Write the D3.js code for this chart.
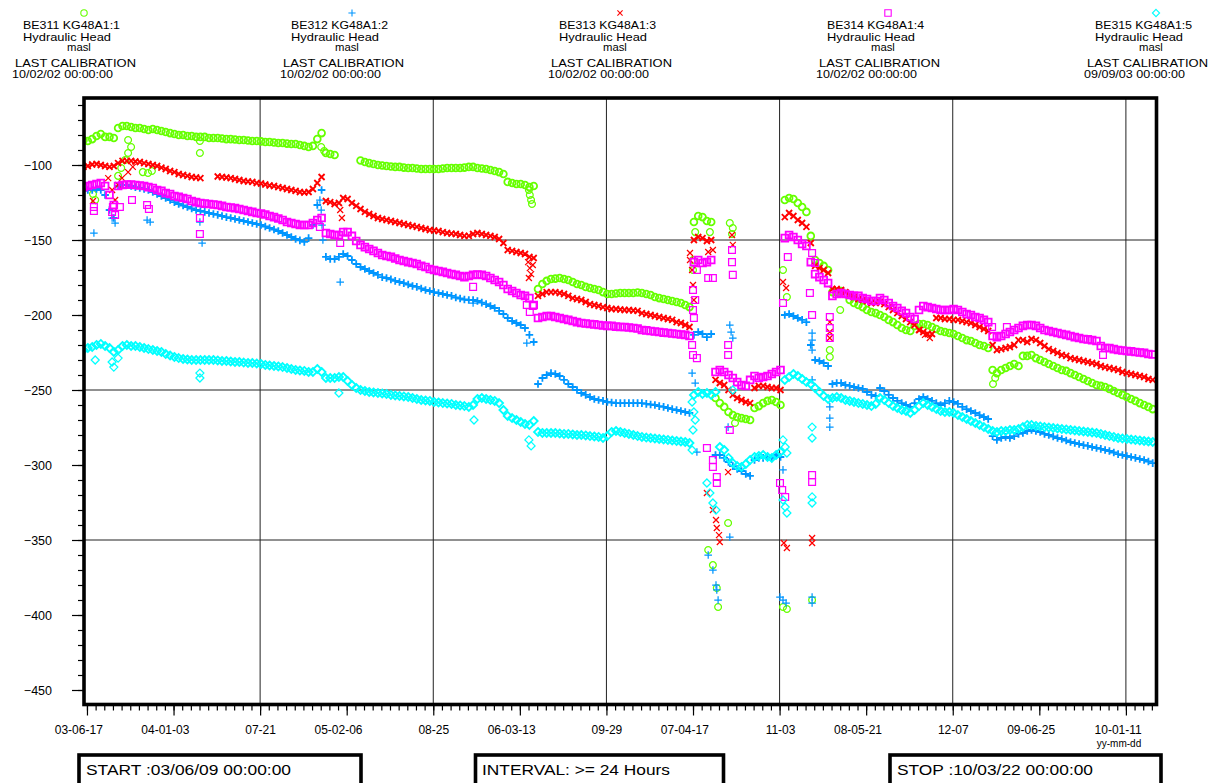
<!DOCTYPE html>
<html><head><meta charset="utf-8">
<script src="https://cdn.jsdelivr.net/npm/d3@7"></script>
<style>
body{margin:0;background:#fff}
svg{display:block}
</style>
</head><body>
<svg id="c" width="1220" height="783"></svg>
<script>
// ---------------- DATA ----------------
const startDate = "2003-06-09", stopDate = "2010-03-22";
const stepDays = 10; // main samples: one value every 10 days from startDate
const sensorIds = ["BE311 KG48A1:1","BE312 KG48A1:2","BE313 KG48A1:3","BE314 KG48A1:4","BE315 KG48A1:5"];
const quantityName = "Hydraulic Head", unitName = "masl";
const lastCalibration = ["10/02/02 00:00:00","10/02/02 00:00:00","10/02/02 00:00:00","10/02/02 00:00:00","09/09/03 00:00:00"];
const xTickDates = ["2003-06-17","2004-01-03","2004-07-21","2005-02-06","2005-08-25","2006-03-13","2006-09-29","2007-04-17","2007-11-03","2008-05-21","2008-12-07","2009-06-25","2010-01-11"];
const xTickLabels = ["03-06-17","04-01-03","07-21","05-02-06","08-25","06-03-13","09-29","07-04-17","11-03","08-05-21","12-07","09-06-25","10-01-11"];
const yTickValues = [-100,-150,-200,-250,-300,-350,-400,-450];
const yGridValues = [-150,-250,-350];
const startText = "START :03/06/09 00:00:00", intervalText = "INTERVAL: >= 24 Hours", stopText = "STOP :10/03/22 00:00:00";

// BE311 (green circles)
const be311 = [
-83.3,-84,-82.7,-80.7,-79.3,-81.3,-81.3,-82,-75.3,-74,
-74,-74.7,-75.3,-75.3,-76,-76.7,-76,-76.7,-77.3,-78,
-78.7,-79.3,-80,-80,-80.7,-80.7,-81.3,-81.3,-81.3,-82,
-82,-82,-82.3,-82.7,-82.7,-83,-83.3,-83.3,-83.7,-84,
-84,-84.3,-84.7,-84.7,-85,-85.3,-85.3,-85.7,-86,-86,
-86.7,-87.3,-88,-87.3,-82.7,-78.7,-92,-92.7,-93.3,null,
null,null,null,null,-97,-98,-98.7,-99.3,-100,-100.3,
-100.7,-101,-101.3,-101.3,-101.7,-102,-102,-102.3,-102.7,-102.7,
-102.7,-102.7,-102.7,-102.3,-102,-102,-102,-102,-101.7,-101.3,
-101.3,-102,-102.3,-102.7,-103.3,-104,-104.7,-106,-111.3,-112,
-112.7,-112.7,-113.3,-114.7,-114,-182.7,-179.3,-177.3,-176,-175.7,
-175.3,-176,-176.7,-178,-179.3,-180,-181.3,-182,-182.7,-183.3,
-184.7,-186,-186,-185.7,-185.3,-185.3,-185.3,-185.3,-185,-185.3,
-186,-186.7,-188,-188.7,-189.3,-190,-190.7,-191.3,-192,-193.3,
-194.7,-138,-134,-134.7,-137.3,-138,-255.3,-258.7,-261.3,-264.7,
-266.7,-268,-268.7,-269.3,-270,-262,-260.7,-258.7,-257.3,-256.7,
-258,-260,-123.3,-122,-122.7,-125.3,-128,-131.3,-147.3,-163.3,
-165.3,-167.3,-170,-184.7,-184.7,-184,-186,-190,-192,-193.3,
-194.7,-196.7,-198,-198.7,-200,-201.3,-203.3,-204.7,-206.7,-208.7,
-210,-210.7,-207.3,-206,-206,-206.7,-208,-209.3,-210.7,-211.3,
-212,-212.7,-214,-215.3,-216.7,-217.3,-218.7,-220,-220.7,-222,
-236.7,-238.7,-236.7,-235.3,-234,-232.7,-234,-227.3,-227.3,-226.7,
-228.7,-230,-231.3,-232.7,-234,-235.3,-236.7,-237.3,-238.7,-240,
-241.3,-242.7,-244,-245.3,-246.7,-247.3,-248,-249.3,-250.7,-252,
-253.3,-254.7,-256,-257.3,-258.7,-260,-261.3,-262.7];
// [days since start, value]
const be311Extra = [[22,-119.3],[27,-123.3],[80,-107.3],[87,-102],[96,-96.7],[103,-92],[110,-88],[103,-83.3],[137,-104.7],[149,-105.3],[158,-104],[269,-92],[269,-84],[549,-88],[556,-90.7],[1029,-116.7],[1031,-120],[1034,-123.3],[1036,-126],[1408,-163.3],[1408,-170],[1413,-144.7],[1447,-144.7],[1493,-138.7],[1500,-142],[1498,-146],[1505,-272],[1489,-338.7],[1443,-356.7],[1454,-366.7],[1463,-382],[1466,-394.7],[1616,-170],[1625,-188],[1616,-394.7],[1625,-396],[1683,-390],[1724,-223.3],[1724,-228],[1748,-196.7],[2106,-242],[2101,-246]];

// BE312 (blue plus)
const be312 = [
-117.3,-116.7,-116.7,-116,-116.7,-120,-130,-135.3,-114,-113.3,
-113.3,-114,-114.7,-115.3,-116,-116.7,-118,-119.3,-120.7,-122,
-123.3,-124.7,-126,-127,-128,-129,-130,-130.7,-131.3,-132,
-132.7,-133.3,-134,-134.7,-135.3,-136,-136.7,-137.3,-138,-138.7,
-139.3,-140,-141,-142,-143,-144,-145.3,-146.7,-148,-149.3,
-150.3,-151.3,-148.7,-140,-126.7,-116.7,-161.3,-162.7,-162.7,-161.3,
-159.3,-160.7,-163.3,-166,-168,-169.3,-170.7,-172,-173.3,-174.7,
-175.3,-176.3,-177.3,-178,-178.7,-179.7,-180.7,-181.3,-182.3,-183.3,
-184,-184.7,-185.3,-186,-186.7,-187.3,-188.3,-189,-189.7,-190,
-190,-190.7,-191.7,-192.7,-194,-195.3,-197.3,-199.3,-202,-204,
-205.3,-206.7,-208.7,-213.3,-218,-246,-242,-240,-238.7,-239.3,
-240.7,-243.3,-246,-248,-250,-252,-253.3,-254.7,-256,-256.7,
-257.3,-258,-258.3,-258.7,-258.7,-258.7,-258.7,-258.7,-258.7,-258.7,
-259.3,-259.7,-260,-260.7,-261.3,-262,-262.7,-263.3,-264,-264.7,
-265.3,-213.3,-211.3,-212.7,-214.7,-212.7,-293.3,-293.3,-295.3,-298,
-300.7,-302.7,-304,-306,-307.3,-296.7,-295.3,-295.3,-294.7,-295.3,
-293.3,-294.7,-200,-199.3,-200.7,-202,-203.3,-204.7,-220,-230,
-230.7,-232,-234,-246,-245.3,-245.3,-246.7,-247.3,-248,-248.7,
-249.3,-251.3,-253.3,-254,-248.7,-250.7,-253.3,-255.3,-257.3,-258.7,
-260,-261.3,-258.7,-256,-254.7,-256,-257.3,-258.7,-260,-258.7,
-257.3,-258,-259.3,-261.3,-262.7,-264,-265.3,-266.7,-268,-269.3,
-280.7,-283.3,-282,-281.3,-282,-280.7,-279.3,-278.7,-277.3,-276.7,
-277.3,-278,-279.3,-280,-281,-282,-282.7,-283.7,-284.7,-285.3,
-286,-286.7,-287.3,-288,-288.7,-289.3,-290,-290.7,-291.7,-292.7,
-293.3,-294,-294.7,-295.3,-296,-296.7,-297.7,-298.7];
const be312Extra = [[24,-145.3],[66,-135.3],[73,-138.7],[147,-136.7],[154,-138],[269,-138],[274,-152],[546,-123.3],[549,-130],[551,-140],[553,-150],[593,-178],[900,-192],[1024,-218.7],[1406,-238.7],[1413,-245.3],[1417,-291.3],[1443,-360],[1454,-370],[1461,-380],[1463,-383.3],[1466,-390],[1493,-348],[1493,-206.7],[1496,-211.3],[1500,-215.3],[1489,-274.7],[1609,-388],[1616,-390],[1623,-392],[1616,-303.3],[1683,-212],[1683,-216.7],[1683,-223.3],[1683,-243.3],[1683,-388],[1683,-392],[1724,-261.3],[1724,-268.7],[1724,-274.7]];

// BE313 (red x)
const be313 = [
-101.3,-100.7,-99.7,-99.3,-100,-100.7,-101.3,-100.7,-98.7,-97.3,
-97.3,-97.3,-97.7,-98,-98.7,-99.3,-100,-100.7,-101.7,-102.7,
-104,-104.7,-106,-106.7,-107.3,-108,-108.3,-108.7,null,null,
null,-107.7,-108,-108.3,-108.7,-109.3,-110,-110.7,-111,-111.3,
-112,-112.3,-113,-113.7,-114,-114.7,-115.3,-116,-116.7,-117.3,
-118,-118.3,-118,-116,-112,-108,-124,-124.7,-126,-125.3,
-122,-122.7,-125.3,-127.3,-129.3,-131.3,-132.7,-134,-135.3,-136,
-136.7,-137.3,-138,-138.7,-139.3,-140,-140.7,-141.3,-142,-142.7,
-143.3,-143.7,-144,-144.7,-145.3,-145.7,-146,-146.7,-147.3,-147.3,
-146,-145.3,-146,-146.7,-147.3,-148,-149.3,-152,-156.7,-157.3,
-158,-158.7,-159.3,-161.3,-162,-187.3,-186,-184.7,-184.7,-184.7,
-185.3,-186,-187.3,-188.7,-189.3,-190,-191.3,-192.7,-193.3,-194,
-194.7,-195.3,-196,-196,-196.3,-196.7,-196.7,-197,-197.3,-198.7,
-199.3,-200,-200.7,-201.3,-202,-202.7,-203.3,-204.7,-205.3,-206.7,
-208,-150,-148,-148.7,-150.7,-150,-243.3,-245.3,-246.7,-250,
-253.3,-255.3,-256.7,-258,-258.7,-248.7,-247.3,-247.3,-248,-248.7,
-248.7,-250,-134.7,-132,-134,-136.7,-138.7,-141.3,-152,-167.3,
-168.7,-170,-172,-182.7,-182.7,-183.3,-184.7,-186.7,-188,-189.3,
-190,-190.7,-192,-192,-191.3,-192.7,-194.7,-196.7,-198.7,-200.7,
-202.7,-204.7,-206.7,-210,-211.3,-212.7,-212.7,-202,-202,-202.7,
-202.7,-203.3,-203.3,-204,-204.7,-205.3,-206.7,-208,-209.3,-210.7,
-220,-223.3,-222.7,-222,-221.3,-220,-216.7,-216.7,-218,-216,
-216.7,-218.7,-220.7,-222.7,-224,-225.3,-226.7,-227.3,-228.7,-229.3,
-230,-230.7,-231.3,-232,-232.7,-234,-234.7,-235.3,-236,-236.7,
-238,-238.7,-239.3,-240,-240.7,-241.3,-242.7,-243.3];
const be313Extra = [[22,-124],[57,-108.7],[66,-116.7],[73,-123.3],[80,-113.3],[89,-108.7],[103,-104.7],[114,-101.3],[593,-130],[597,-135.3],[1027,-164.7],[1031,-168.7],[1034,-172.7],[1029,-175.3],[1038,-166.7],[1401,-158.7],[1401,-163.3],[1406,-170],[1408,-180],[1410,-190],[1443,-158],[1454,-156.7],[1440,-318.7],[1454,-330],[1461,-336.7],[1463,-342],[1468,-346.7],[1470,-351.3],[1489,-304.7],[1498,-146.7],[1500,-153.3],[1616,-178],[1623,-182],[1618,-352],[1625,-355.3],[1683,-348.7],[1683,-352],[1724,-204.7],[1724,-211.3],[1724,-215.3],[1932,-210],[1944,-213.3],[1955,-215.3]];

// BE314 (magenta squares)
const be314 = [
-114.7,-114,-113.3,-112.7,-112,-114,-120,-126.7,-114,-113.3,
-113,-113,-113.3,-113.7,-114,-114.7,-115.3,-116.7,-117.3,-118.7,
-119.3,-120.7,-121.3,-122,-122.7,-124,-124.7,-125.3,-125.7,-126,
-126.3,-126.7,-127.3,-128,-128.3,-128.7,-129.3,-130,-130.7,-131.3,
-132,-132.3,-133,-134,-134.7,-135.7,-136.7,-138,-138.7,-139.3,
-140,-140,-140,-138.7,-136.7,-135.3,-145.3,-146,-146.7,-146.7,
-144.7,-144.7,-147.3,-150.7,-153.3,-154.7,-156,-157.3,-158.7,-160,
-160.7,-161.3,-162.3,-163.3,-164,-164.7,-165.3,-166,-167.3,-168,
-169.3,-170,-170.7,-171.3,-172,-172.7,-173.3,-174,-174.7,-174,
-173.3,-173,-173.3,-174,-175.3,-176.7,-178,-180,-182.7,-184,
-185.3,-186.7,-187.3,-188.7,-193.3,-202,-201.3,-200.7,-200.7,-201.3,
-202,-202.7,-203.3,-204,-204.7,-205.3,-205.7,-206,-206.3,-206.7,
-207,-207.3,-207.3,-207.7,-208,-208,-208.3,-208.7,-209,-210,
-210.3,-210.7,-211,-211.3,-211.7,-212,-212.3,-212.7,-213,-213.3,
-214,-164.7,-163.3,-165.3,-164.7,-163.3,-238,-236.7,-238,-240,
-242,-244.7,-246.7,-247.3,-243.3,-240.7,-242,-241.3,-240.7,-239.3,
-238,-236.7,-148.7,-146.7,-148,-150,-152.7,-154,-164.7,-172.7,
-174.7,-176.7,-178.7,-187.3,-186,-185.3,-186,-186.7,-187.3,-187.3,
-188.7,-189.3,-190.7,-190.7,-188.7,-190,-192,-194,-195.3,-197.3,
-198.7,-201.3,-202.7,-196.7,-194,-194.7,-195.3,-196,-196.7,-196.7,
-196.7,-196,-196.7,-198,-199.3,-200,-201.3,-202,-203.3,-204.7,
-214,-214.7,-214,-212.7,-211.3,-210,-208.7,-207.3,-206.7,-206.7,
-207.3,-208.7,-210,-210.7,-211.3,-212,-212.7,-213.3,-214,-214.7,
-215.3,-216,-216.3,-216.7,-217.3,-220.7,-222,-222,-222.7,-223.3,
-223.7,-224,-224.3,-224.7,-225,-225.3,-226,-226.3];
const be314Extra = [[24,-128],[24,-130.7],[66,-131.3],[68,-128],[73,-133.3],[84,-128],[112,-123.3],[147,-126.7],[151,-129.3],[269,-135.3],[269,-146],[546,-141.3],[593,-152],[900,-181.3],[1024,-193.3],[1031,-198],[1038,-194],[1408,-183.3],[1413,-190],[1408,-196.7],[1410,-202],[1406,-220],[1408,-226.7],[1417,-228.7],[1417,-170],[1443,-175.3],[1454,-175.3],[1498,-156.7],[1498,-164.7],[1500,-173.3],[1489,-220],[1489,-226.7],[1440,-288.7],[1454,-296.7],[1454,-301.3],[1463,-308],[1463,-312],[1493,-276.7],[1609,-312],[1614,-316.7],[1621,-321.3],[1616,-192],[1627,-161.3],[1683,-158.7],[1690,-165.3],[1678,-185.3],[1683,-200],[1724,-201.3],[1724,-208.7],[1724,-215.3],[1683,-306.7],[1683,-311.3],[2099,-208],[2133,-208],[2355,-226.7]];

// BE315 (cyan diamonds)
const be315 = [
-223.3,-222,-221.3,-220,-219.3,-220.7,-222,-224.7,-223.3,-220.7,
-220,-220.7,-220.7,-221.3,-222,-222.7,-223.3,-224,-224.7,-226,
-227,-228,-228.7,-229.3,-229.7,-230,-230,-230,-230,-230,
-230,-230.3,-230.7,-230.7,-231,-231.3,-231.3,-231.7,-232,-232,
-232.3,-232.7,-233.3,-233.7,-234,-234.3,-234.7,-235.3,-236,-236.7,
-237,-237.3,-238,-238,-236,-238,-242,-242,-242,-241.3,
-241.3,-244,-246.7,-248.7,-250,-250.7,-251.3,-251.7,-252,-252.3,
-252.7,-253.3,-253.7,-254,-254.3,-254.7,-255.3,-256,-256.7,-257,
-257.3,-258,-258.3,-258.7,-259,-259.3,-260,-260.3,-260.7,-261.3,
-260,-256,-255.3,-256,-256.7,-257.3,-258.7,-263.3,-267.3,-268.7,
-270,-271.3,-272.7,-273.3,-270.7,-278,-278.7,-278.7,-278.7,-278.7,
-279,-279.3,-279.3,-279.7,-280,-280,-280.3,-280.7,-281,-281.3,
-282,-280.7,-278,-277.3,-278,-278.7,-279.3,-280,-280.7,-281.3,
-281.7,-282,-282.3,-282.7,-283,-283.3,-283.7,-284,-284.3,-284.7,
-285.3,-253.3,-251.3,-252.7,-252,-253.3,-251.3,-288,-290,-295.3,
-298.7,-300.7,-301.3,-299.3,-296.7,-294.7,-294,-293.3,-294.7,-295.3,
-293.3,-291.3,-243.3,-241.3,-239.3,-240.7,-242.7,-244.7,-246,-248.7,
-251.3,-254,-256,-255.3,-254.7,-255.3,-256.7,-257.3,-258,-258.7,
-259.3,-260,-260.7,-259.3,-255.3,-256.7,-258.7,-260.7,-262,-263.3,
-264,-265.3,-263.3,-260.7,-258.7,-260,-261.3,-262.7,-264,-264.7,
-264.7,-265.3,-266.7,-268,-269.3,-270.7,-272,-273.3,-274.7,-276,
-277.3,-278,-277.3,-277.3,-276.7,-276.7,-276,-274.7,-273.3,-273.3,
-274,-274.3,-274.7,-275,-275.3,-275.7,-276,-276.3,-276.7,-277,
-277.3,-277.7,-278,-278.3,-278.7,-279.3,-280,-280.7,-281.3,-282,
-282.3,-282.7,-283,-283.3,-283.7,-284,-284.3,-284.7];
const be315Extra = [[27,-230],[66,-231.3],[70,-234.7],[80,-228.7],[269,-238.7],[269,-242],[590,-252],[902,-270],[1029,-283.3],[1034,-287.3],[1406,-258],[1410,-264.7],[1413,-270],[1408,-276.7],[1406,-290],[1440,-312],[1447,-318.7],[1454,-325.3],[1461,-330],[1616,-323.3],[1621,-328],[1625,-332],[1616,-283.3],[1621,-288],[1625,-292],[1683,-274.7],[1683,-282],[1683,-321.3],[1683,-325.3],[1500,-250]];

// ---------------- CHART ----------------
const FONT = "'Liberation Sans', Arial, Helvetica, sans-serif";
const series = [
  {main: be311, extra: be311Extra, color: "#66ff00", shape: "circle"},
  {main: be312, extra: be312Extra, color: "#0096ff", shape: "plus"},
  {main: be313, extra: be313Extra, color: "#ff0000", shape: "cross"},
  {main: be314, extra: be314Extra, color: "#ff00ff", shape: "square"},
  {main: be315, extra: be315Extra, color: "#00ffff", shape: "diamond"}
];
const shapePath = {
  circle: "M3.4,0A3.4,3.4 0 1,1 -3.4,0A3.4,3.4 0 1,1 3.4,0Z",
  plus: "M-3.8,0H3.8M0,-3.8V3.8",
  cross: "M-3,-3L3,3M-3,3L3,-3",
  square: "M-3.4,-3.4H3.4V3.4H-3.4Z",
  diamond: "M0,-4L4,0L0,4L-4,0Z"
};
const headShapePath = {
  circle: "M3.2,0A3.2,3.2 0 1,1 -3.2,0A3.2,3.2 0 1,1 3.2,0Z",
  plus: "M-3.6,0H3.6M0,-3.6V3.6",
  cross: "M-2.6,-2.6L2.6,2.6M-2.6,2.6L2.6,-2.6",
  square: "M-3.2,-3.2H3.2V3.2H-3.2Z",
  diamond: "M0,-3.6L3.6,0L0,3.6L-3.6,0Z"
};

const parse = d3.utcParse("%Y-%m-%d");
const t0 = parse(startDate), t1 = parse(stopDate);
const L = 84, R = 1156.5, T = 98, B = 704.5;
const x = d3.scaleUtc().domain([t0, t1]).range([83.5, 1156.2]);
const y = d3.scaleLinear().domain([-460, -55]).range([705, 97.5]);

const svg = d3.select("#c").attr("font-family", FONT);

svg.append("defs").append("clipPath").attr("id", "plotclip")
  .append("rect").attr("x", L).attr("y", T).attr("width", R - L).attr("height", B - T);

// grid
const grid = svg.append("g").attr("stroke", "#222").attr("stroke-width", 1);
const gridDates = xTickDates.filter((d, i) => i > 0 && i % 2 === 0).map(parse);
grid.selectAll("line.v").data(gridDates).join("line")
  .attr("x1", d => x(d)).attr("x2", d => x(d)).attr("y1", T).attr("y2", B);
grid.selectAll("line.h").data(yGridValues).join("line")
  .attr("x1", L).attr("x2", R).attr("y1", d => y(d)).attr("y2", d => y(d));

// data
const dataLayer = svg.append("g").attr("clip-path", "url(#plotclip)");
series.forEach(s => {
  const mainPts = [], extraPts = [];
  s.main.forEach((v, i) => { if (v != null) mainPts.push([d3.utcDay.offset(t0, i * stepDays), v]); });
  s.extra.forEach(([d, v]) => extraPts.push([d3.utcDay.offset(t0, d), v]));
  const g = dataLayer.append("g").attr("fill", "none").attr("stroke", s.color);
  g.append("g").attr("stroke-width", 1.25).selectAll("path").data(extraPts).join("path")
    .attr("d", shapePath[s.shape])
    .attr("transform", d => `translate(${x(d[0]).toFixed(1)},${y(d[1]).toFixed(1)})`);
  g.append("g").attr("stroke-width", 1.8).selectAll("path").data(mainPts).join("path")
    .attr("d", shapePath[s.shape])
    .attr("transform", d => `translate(${x(d[0]).toFixed(1)},${y(d[1]).toFixed(1)})`);
});

// frame
svg.append("rect").attr("x", L).attr("y", T).attr("width", R - L).attr("height", B - T)
  .attr("fill", "none").attr("stroke", "#000").attr("stroke-width", 3.6);

// x axis
const majorDates = xTickDates.map(parse);
const minorDates = d3.utcDay.range(majorDates[0], t1, 20);
const gxMinor = svg.append("g").attr("transform", `translate(0,${B})`)
  .call(d3.axisBottom(x).tickValues(minorDates).tickSize(6).tickFormat(""));
const gxMajor = svg.append("g").attr("transform", `translate(0,${B})`)
  .call(d3.axisBottom(x).tickValues(majorDates).tickSize(11).tickFormat((d, i) => xTickLabels[i]));
[gxMinor, gxMajor].forEach(g => { g.select(".domain").remove(); g.selectAll("line").attr("stroke", "#000").attr("stroke-width", 1.2); g.attr("font-family", FONT); });
// half-width of an "mm-dd" part so the month-day is centred on the tick
const meas = svg.append("text").attr("font-size", 12).attr("font-family", FONT).text("06-17");
const halfMD = meas.node().getComputedTextLength() / 2; meas.remove();
gxMajor.attr("font-size", 12).selectAll("text")
  .attr("fill", "#000").attr("text-anchor", "end").attr("x", halfMD).attr("y", 29.5).attr("dy", 0);
svg.append("text").attr("x", x(majorDates[majorDates.length - 1]) + halfMD).attr("y", 747)
  .attr("text-anchor", "end").attr("font-size", 10).text("yy-mm-dd");

// y axis
const gyMinor = svg.append("g").attr("transform", `translate(${L},0)`)
  .call(d3.axisLeft(y).tickValues(d3.range(-450, -55, 10)).tickSize(6).tickFormat(""));
const gyMajor = svg.append("g").attr("transform", `translate(${L},0)`)
  .call(d3.axisLeft(y).tickValues(yTickValues).tickSize(12).tickPadding(20).tickFormat(d3.format("d")));
[gyMinor, gyMajor].forEach(g => { g.select(".domain").remove(); g.selectAll("line").attr("stroke", "#000").attr("stroke-width", 1.2); g.attr("font-family", FONT); });
gyMajor.attr("font-size", 12.5).selectAll("text").attr("fill", "#000").attr("dy", "0.35em");

// header legend
const head = svg.append("g").attr("font-size", 11.3).attr("fill", "#000");
sensorIds.forEach((id, k) => {
  const left = 23 + 268 * k, mx = 84 + 268 * k;
  head.append("path").attr("d", headShapePath[series[k].shape]).attr("transform", `translate(${mx},13)`)
    .attr("fill", "none").attr("stroke", series[k].color).attr("stroke-width", 1.1);
  head.append("text").attr("x", left).attr("y", 29).attr("textLength", 97).attr("lengthAdjust", "spacingAndGlyphs").text(id);
  head.append("text").attr("x", left).attr("y", 40.5).attr("textLength", 88).attr("lengthAdjust", "spacingAndGlyphs").text(quantityName);
  head.append("text").attr("x", left + 44).attr("y", 51).text(unitName);
  head.append("text").attr("x", left - 8).attr("y", 67).attr("textLength", 121).attr("lengthAdjust", "spacingAndGlyphs").text("LAST CALIBRATION");
  head.append("text").attr("x", left - 11).attr("y", 77.5).attr("textLength", 101).attr("lengthAdjust", "spacingAndGlyphs").text(lastCalibration[k]);
});

// bottom boxes
const boxes = [
  {x0: 79, x1: 361, text: startText, tx: 86, tl: 205},
  {x0: 475.5, x1: 723.5, text: intervalText, tx: 482, tl: 188},
  {x0: 890, x1: 1161, text: stopText, tx: 897, tl: 196}
];
const bx = svg.append("g");
boxes.forEach(b => {
  bx.append("rect").attr("x", b.x0).attr("y", 755).attr("width", b.x1 - b.x0).attr("height", 45)
    .attr("fill", "none").attr("stroke", "#000").attr("stroke-width", 3.6);
  bx.append("text").attr("x", b.tx).attr("y", 775).attr("font-size", 15)
    .attr("textLength", b.tl).attr("lengthAdjust", "spacingAndGlyphs").text(b.text);
});
</script>
</body></html>
